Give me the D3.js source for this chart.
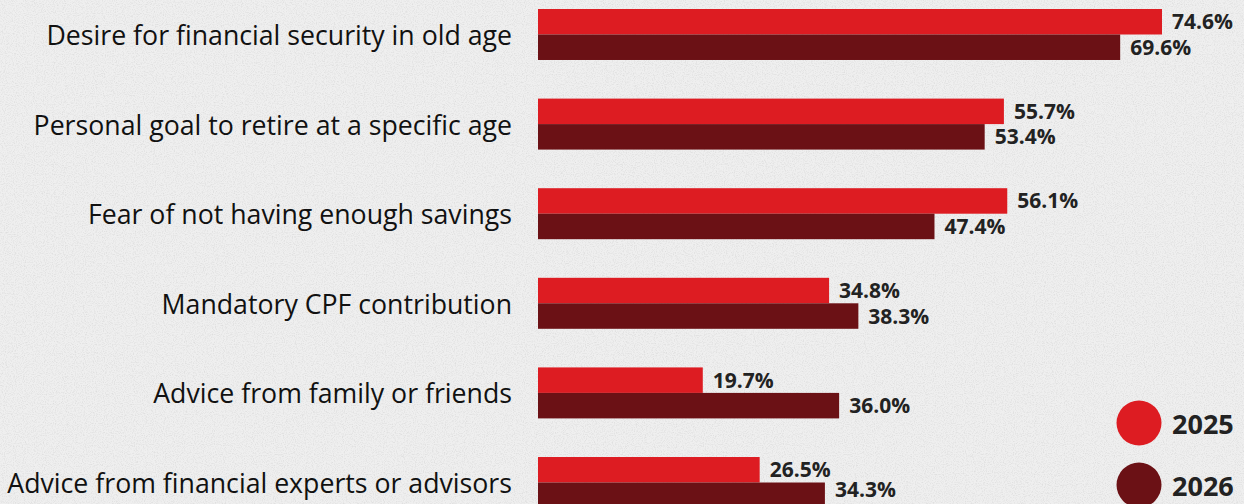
<!DOCTYPE html>
<html>
<head>
<meta charset="utf-8">
<script src="https://cdn.jsdelivr.net/npm/d3@7"></script>
<style>
  html, body { margin: 0; padding: 0; background: #efefef; }
  svg { display: block; }
</style>
</head>
<body>
<svg id="chart" width="1244" height="504"></svg>
<script>
// Reasons driving retirement planning, share of respondents (%)
const categories = [
  "Desire for financial security in old age",
  "Personal goal to retire at a specific age",
  "Fear of not having enough savings",
  "Mandatory CPF contribution",
  "Advice from family or friends",
  "Advice from financial experts or advisors"
];
const years = ["2025", "2026"];
const values2025 = [74.6, 55.7, 56.1, 34.8, 19.7, 26.5];
const values2026 = [69.6, 53.4, 47.4, 38.3, 36.0, 34.3];
const colors = { "2025": "#dd1c22", "2026": "#6b1115" };

const W = 1244, H = 504;
const svg = d3.select("#chart");

// paper-like background texture
const defs = svg.append("defs");
const noise = defs.append("filter").attr("id", "paper")
  .attr("x", 0).attr("y", 0).attr("width", "100%").attr("height", "100%");
noise.append("feTurbulence").attr("type", "fractalNoise")
  .attr("baseFrequency", 0.9).attr("numOctaves", 2).attr("seed", 7).attr("result", "n");
noise.append("feColorMatrix").attr("type", "matrix")
  .attr("values", "0 0 0 0 0.2  0 0 0 0 0.2  0 0 0 0 0.2  0 0 0 -1.1 0.62");
svg.append("rect").attr("width", W).attr("height", H).attr("fill", "#efefef");
svg.append("rect").attr("width", W).attr("height", H).attr("filter", "url(#paper)").attr("opacity", 0.3);

// flattened bar records
const bars = [];
categories.forEach((c, i) => {
  bars.push({ category: c, key: "2025", value: values2025[i] });
  bars.push({ category: c, key: "2026", value: values2026[i] });
});

const x = d3.scaleLinear()
  .domain([0, d3.max(values2025.concat(values2026))])
  .range([538, 1162]);

const y = d3.scaleBand()
  .domain(categories)
  .range([9, 508])
  .paddingInner(0.431)
  .paddingOuter(0)
  .align(0);

const y1 = d3.scaleBand()
  .domain(years)
  .range([0, y.bandwidth()]);

const barY = d => y(d.category) + y1(d.key);

svg.append("g").selectAll("rect")
  .data(bars)
  .join("rect")
  .attr("x", x(0))
  .attr("y", barY)
  .attr("width", d => x(d.value) - x(0))
  .attr("height", y1.bandwidth())
  .attr("fill", d => colors[d.key]);

// value labels, kept inside the bottom edge
svg.append("g").selectAll("text")
  .data(bars)
  .join("text")
  .attr("x", d => x(d.value) + 10)
  .attr("y", d => Math.min(barY(d) + y1.bandwidth() / 2 - 0.5, H - 15))
  .attr("dominant-baseline", "central")
  .attr("font-family", "'Open Sans', sans-serif")
  .attr("font-weight", 700)
  .attr("font-size", 21)
  .attr("fill", "#222")
  .text(d => d3.format(".1f")(d.value) + "%");

// category labels
svg.append("g").selectAll("text")
  .data(categories)
  .join("text")
  .attr("x", 512)
  .attr("y", d => y(d) + y.bandwidth() / 2)
  .attr("text-anchor", "end")
  .attr("dominant-baseline", "central")
  .attr("font-family", "'Open Sans', sans-serif")
  .attr("font-size", 26.7)
  .attr("fill", "#111")
  .text(d => d);

// legend
const legend = svg.append("g").selectAll("g")
  .data(years)
  .join("g")
  .attr("transform", (d, i) => `translate(1139,${423 + i * 62})`);
legend.append("circle").attr("r", 22.5).attr("fill", d => colors[d]);
legend.append("text")
  .attr("x", 33)
  .attr("dominant-baseline", "central")
  .attr("font-family", "'Open Sans', sans-serif")
  .attr("font-weight", 700)
  .attr("font-size", 27)
  .attr("fill", "#222")
  .text(d => d);
</script>
</body>
</html>
